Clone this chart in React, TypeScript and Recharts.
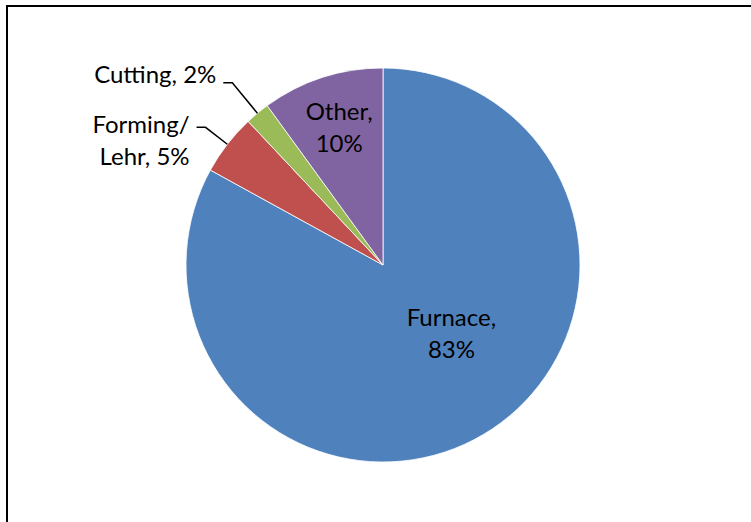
import React from "react";
import { PieChart, Pie, Cell } from "recharts";

const categories = ["Furnace", "Forming/Lehr", "Cutting", "Other"];
const shares = [83, 5, 2, 10];
const labelLines = [
  ["Furnace,", "83%"],
  ["Forming/", "Lehr, 5%"],
  ["Cutting, 2%"],
  ["Other,", "10%"],
];

const COLORS = ["#4F81BD", "#C0504D", "#9BBB59", "#8064A2"];

const data = categories.map((name, i) => ({ name, value: shares[i], lines: labelLines[i] }));

const RAD = Math.PI / 180;
const FONT = "Lato, 'Noto Sans', sans-serif";
const FONT_SIZE = 24;
const LINE_H = 32;

// inside labels: radius ratio + angle; outside: elbow ratio
const inside: Record<number, { r: number; angle: number }> = {
  0: { r: 0.5, angle: -46 },
  3: { r: 0.72, angle: 108 },
};
const outside: Record<number, number> = { 1: 1.14, 2: 1.2 };

function renderLabel(props: any) {
  const { cx, cy, midAngle, outerRadius, index } = props;
  const lines: string[] = data[index].lines;
  if (inside[index]) {
    const { r, angle } = inside[index];
    const x = cx + outerRadius * r * Math.cos(angle * RAD);
    const y = cy - outerRadius * r * Math.sin(angle * RAD);
    const top = y - ((lines.length - 1) * LINE_H) / 2 - 4;
    return (
      <text x={x} y={top} textAnchor="middle" dominantBaseline="central" fill="#000" fontFamily={FONT} fontSize={FONT_SIZE}>
        {lines.map((l, i) => (
          <tspan key={i} x={x} dy={i === 0 ? 0 : LINE_H}>
            {l}
          </tspan>
        ))}
      </text>
    );
  }
  const sx = cx + outerRadius * Math.cos(midAngle * RAD);
  const sy = cy - outerRadius * Math.sin(midAngle * RAD);
  const k = outside[index];
  const ex = cx + outerRadius * k * Math.cos(midAngle * RAD);
  const ey = cy - outerRadius * k * Math.sin(midAngle * RAD);
  const hx = ex - 9;
  const tx = hx - 7;
  const top = lines.length > 1 ? ey - 4 : ey - 10;
  return (
    <g>
      <polyline points={`${sx},${sy} ${ex},${ey} ${hx},${ey}`} fill="none" stroke="#000" strokeWidth={1.5} />
      <text x={tx} y={top} textAnchor="end" dominantBaseline="central" fill="#000" fontFamily={FONT} fontSize={FONT_SIZE}>
        {lines.map((l, i) => (
          <tspan key={i} x={tx} dy={i === 0 ? 0 : LINE_H}>
            {l}
          </tspan>
        ))}
      </text>
    </g>
  );
}

export default function App() {
  return (
    <div
      style={{
        position: "absolute",
        left: 0,
        top: 0,
        width: 751,
        height: 522,
        overflow: "hidden",
        background: "#fff",
      }}
    >
      <div
        style={{
          position: "absolute",
          left: 6,
          top: 5,
          width: 800,
          height: 600,
          border: "2px solid #000",
        }}
      />
      <div style={{ position: "absolute", left: 0, top: 0 }}>
        <PieChart width={751} height={522} margin={{ top: 0, right: 0, bottom: 0, left: 0 }}>
          <Pie
            data={data}
            dataKey="value"
            nameKey="name"
            cx={383}
            cy={265}
            outerRadius={197}
            startAngle={90}
            endAngle={-270}
            stroke="#fff"
            strokeWidth={0.8}
            label={renderLabel}
            labelLine={false}
            isAnimationActive={false}
          >
            {data.map((_, i) => (
              <Cell key={`cell-${i}`} fill={COLORS[i]} />
            ))}
          </Pie>
        </PieChart>
      </div>
    </div>
  );
}
